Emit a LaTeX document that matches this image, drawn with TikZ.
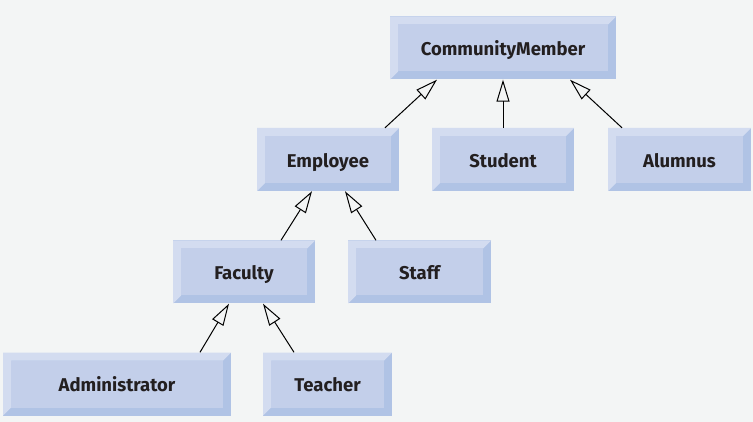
\documentclass[tikz,border=0pt]{standalone}
\usepackage{fontspec}
\setmainfont{Fira Sans}
\usetikzlibrary{arrows.meta}
\definecolor{bg}{HTML}{F3F5F5}
\definecolor{bevlight}{HTML}{D3DCF0}
\definecolor{bevface}{HTML}{C3CFEA}
\definecolor{bevdark}{HTML}{B0C3E5}
\definecolor{txt}{HTML}{231F20}
\tikzset{
  cls/.style={rectangle, minimum width=#1, minimum height=63pt, inner sep=0pt,
    font=\fontsize{18.5}{20}\selectfont\bfseries, text=txt, text height=15.6pt, text depth=0pt,
    path picture={
      \fill[bevdark] (path picture bounding box.south west) rectangle (path picture bounding box.north east);
      \fill[bevlight] (path picture bounding box.south west) -- (path picture bounding box.north west)
        -- (path picture bounding box.north east) -- ([shift={(-8pt,-8pt)}]path picture bounding box.north east)
        -- ([shift={(8pt,-8pt)}]path picture bounding box.north west) -- ([shift={(8pt,8pt)}]path picture bounding box.south west) -- cycle;
      \fill[bevface] ([shift={(8pt,8pt)}]path picture bounding box.south west) rectangle ([shift={(-8pt,-8pt)}]path picture bounding box.north east);
    }},
  inh/.style={draw=black, line width=1pt, -{Triangle[open, length=22pt, width=13pt, line width=1pt]}}
}
\begin{document}
\begin{tikzpicture}[x=1pt,y=-1pt]
\fill[bg] (0,0) rectangle (753,422);
\useasboundingbox (0,0) rectangle (753,422);
\node[cls=226pt] (cm) at (503,48) {CommunityMember};
\node[cls=142pt] (emp) at (328,159.5) {Employee};
\node[cls=142pt] (stu) at (503,159.5) {Student};
\node[cls=143pt] (alu) at (679.5,159.5) {Alumnus};
\node[cls=142pt] (fac) at (244,272) {Faculty};
\node[cls=143pt] (sta) at (419.5,272) {Staff};
\node[cls=228pt] (adm) at (117,384) {Administrator};
\node[cls=129pt] (tea) at (327.5,384) {Teacher};
\draw[inh] ([xshift=57pt]emp.north) -- ([xshift=-66pt]cm.south);
\draw[inh] (stu.north) -- (cm.south);
\draw[inh] ([xshift=-57.5pt]alu.north) -- ([xshift=67pt]cm.south);
\draw[inh] ([xshift=37pt]fac.north) -- ([xshift=-16pt]emp.south);
\draw[inh] ([xshift=-43.5pt]sta.north) -- ([xshift=17pt]emp.south);
\draw[inh] ([xshift=83pt]adm.north) -- ([xshift=-15pt]fac.south);
\draw[inh] ([xshift=-33.5pt]tea.north) -- ([xshift=19pt]fac.south);
\end{tikzpicture}
\end{document}
